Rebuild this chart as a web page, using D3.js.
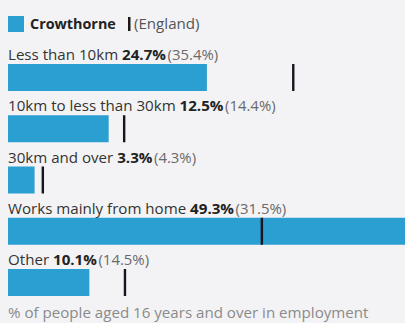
<!DOCTYPE html>
<html>
<head>
<meta charset="utf-8">
<script src="https://cdn.jsdelivr.net/npm/d3@7"></script>
<style>
  html, body { margin: 0; padding: 0; background: #f3f3f5; }
  svg { display: block; font-family: "Open Sans", sans-serif; }
</style>
</head>
<body>
<script>
const categories = ["Less than 10km", "10km to less than 30km", "30km and over", "Works mainly from home", "Other"];
const crowthorne = [24.7, 12.5, 3.3, 49.3, 10.1];
const england = [35.4, 14.4, 4.3, 31.5, 14.5];
const legendLabels = ["Crowthorne", "(England)"];
const footnote = "% of people aged 16 years and over in employment";

const W = 405, H = 323;
const SX = 1.08; // horizontal text stretch seen in the reference
const svg = d3.select("body").append("svg").attr("width", W).attr("height", H);
svg.append("rect").attr("width", W).attr("height", H).attr("fill", "#f3f3f5");

const barColor = "#2b9fd1";
const x = d3.scaleLinear().domain([0, 49.3]).range([8, 405]);
const y = d3.scaleBand().domain(categories).range([37, 293.25]).paddingInner(0);

// legend
const lg = svg.append("g");
lg.append("rect").attr("x", 8).attr("y", 16).attr("width", 16).attr("height", 16).attr("fill", barColor);
lg.append("g").attr("transform", `translate(30,29) scale(${SX},1)`)
  .append("text").attr("font-size", 13.3).attr("font-weight", 700).attr("fill", "#222").text(legendLabels[0]);
lg.append("rect").attr("x", 128).attr("y", 17).attr("width", 2.5).attr("height", 14).attr("fill", "#1a1a1a");
lg.append("g").attr("transform", `translate(134,29) scale(${SX},1)`)
  .append("text").attr("font-size", 14).attr("fill", "#555").text(legendLabels[1]);

const rows = svg.selectAll("g.row").data(categories).join("g").attr("class", "row")
  .attr("transform", d => `translate(0,${y(d)})`);

const label = rows.append("g").attr("transform", `translate(8,23) scale(${SX},1)`)
  .append("text").attr("font-size", 14).attr("fill", "#333");
label.append("tspan").text(d => d + " ");
label.append("tspan").attr("font-weight", 700).attr("fill", "#222").text((d, i) => crowthorne[i].toFixed(1) + "%");
label.append("tspan").attr("font-size", 13.8).attr("fill", "#6a6a6a").attr("dx", 1.5).text((d, i) => "(" + england[i].toFixed(1) + "%)");

rows.append("rect").attr("x", x(0)).attr("y", 27).attr("height", 27)
  .attr("width", (d, i) => x(crowthorne[i]) - x(0)).attr("fill", barColor);

rows.append("rect").attr("x", (d, i) => x(england[i]) - 1).attr("y", 27).attr("width", 2.4).attr("height", 27)
  .attr("fill", "#15151f");

svg.append("g").attr("transform", `translate(8,318) scale(${SX},1)`)
  .append("text").attr("font-size", 14).attr("fill", "#8a8a8a").text(footnote);
</script>
</body>
</html>
